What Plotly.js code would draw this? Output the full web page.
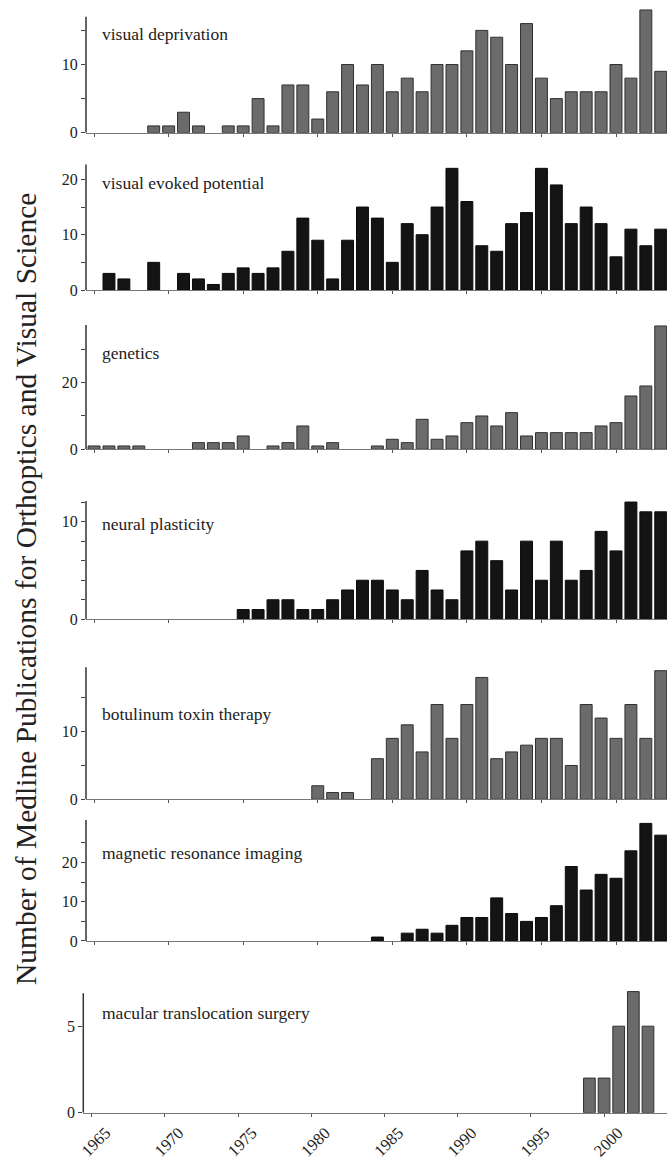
<!DOCTYPE html>
<html>
<head>
<meta charset="utf-8">
<script src="https://cdn.plot.ly/plotly-3.0.1.min.js"></script>
<style>
  html, body { margin: 0; padding: 0; background: #ffffff; }
  #chart { width: 667px; height: 1161px; }
</style>
</head>
<body>
<div id="chart"></div>
<script>
// ---------------- DATA ----------------
const years = [1965, 1966, 1967, 1968, 1969, 1970, 1971, 1972, 1973, 1974,
               1975, 1976, 1977, 1978, 1979, 1980, 1981, 1982, 1983, 1984,
               1985, 1986, 1987, 1988, 1989, 1990, 1991, 1992, 1993, 1994,
               1995, 1996, 1997, 1998, 1999, 2000, 2001, 2002, 2003];

const xTickYears  = [1965, 1970, 1975, 1980, 1985, 1990, 1995, 2000];
const xTickLabels = ["1965", "1970", "1975", "1980", "1985", "1990", "1995", "2000"];

const panelNames = ["visual deprivation", "visual evoked potential", "genetics",
                    "neural plasticity", "botulinum toxin therapy",
                    "magnetic resonance imaging", "macular translocation surgery"];

const visualDeprivation = [0, 0, 0, 0, 1, 1, 3, 1, 0, 1,
                           1, 5, 1, 7, 7, 2, 6, 10, 7, 10,
                           6, 8, 6, 10, 10, 12, 15, 14, 10, 16,
                           8, 5, 6, 6, 6, 10, 8, 18, 9];

const visualEvokedPotential = [0, 3, 2, 0, 5, 0, 3, 2, 1, 3,
                               4, 3, 4, 7, 13, 9, 2, 9, 15, 13,
                               5, 12, 10, 15, 22, 16, 8, 7, 12, 14,
                               22, 19, 12, 15, 12, 6, 11, 8, 11];

const genetics = [1, 1, 1, 1, 0, 0, 0, 2, 2, 2,
                  4, 0, 1, 2, 7, 1, 2, 0, 0, 1,
                  3, 2, 9, 3, 4, 8, 10, 7, 11, 4,
                  5, 5, 5, 5, 7, 8, 16, 19, 37];

const neuralPlasticity = [0, 0, 0, 0, 0, 0, 0, 0, 0, 0,
                          1, 1, 2, 2, 1, 1, 2, 3, 4, 4,
                          3, 2, 5, 3, 2, 7, 8, 6, 3, 8,
                          4, 8, 4, 5, 9, 7, 12, 11, 11];

const botulinumToxin = [0, 0, 0, 0, 0, 0, 0, 0, 0, 0,
                        0, 0, 0, 0, 0, 2, 1, 1, 0, 6,
                        9, 11, 7, 14, 9, 14, 18, 6, 7, 8,
                        9, 9, 5, 14, 12, 9, 14, 9, 19];

const mri = [0, 0, 0, 0, 0, 0, 0, 0, 0, 0,
             0, 0, 0, 0, 0, 0, 0, 0, 0, 1,
             0, 2, 3, 2, 4, 6, 6, 11, 7, 5,
             6, 9, 19, 13, 17, 16, 23, 30, 27];

const macularTranslocation = [0, 0, 0, 0, 0, 0, 0, 0, 0, 0,
                              0, 0, 0, 0, 0, 0, 0, 0, 0, 0,
                              0, 0, 0, 0, 0, 0, 0, 0, 0, 0,
                              0, 0, 0, 0, 2, 2, 5, 7, 5];

const yTickVals = [[0, 5, 10, 15], [0, 5, 10, 15, 20], [0, 10, 20, 30],
                   [0, 2, 4, 6, 8, 10, 12], [0, 5, 10, 15], [0, 5, 10, 15, 20, 25], [0, 5]];
const yTickText = [["0", "", "10", ""], ["0", "", "10", "", "20"], ["0", "", "20", ""],
                   ["0", "", "", "", "", "10", ""], ["0", "", "10", ""], ["0", "", "10", "", "20", ""], ["0", "5"]];

const seriesList = [visualDeprivation, visualEvokedPotential, genetics, neuralPlasticity,
                    botulinumToxin, mri, macularTranslocation];

// ---------------- STYLE / LAYOUT ----------------
const W = 667, H = 1161;
const SERIF = "Liberation Serif, Times New Roman, serif";
const GRAY = "#6b6b6b", GRAY_LINE = "#303030";
const BLACK = "#141414", BLACK_LINE = "#0a0a0a";

// pixel geometry of each panel: baseline (px), px per unit, range max, axis line top (value), label centre (px)
const geom = [
  { base: 132.7, ppu: 6.82, rmax: 19.0, atop: 17.0, ly: 34,  dark: false },
  { base: 290.0, ppu: 5.53, rmax: 23.0, atop: 22.7, ly: 183, dark: true  },
  { base: 449.3, ppu: 3.333, rmax: 38.0, atop: 37.3, ly: 353, dark: false },
  { base: 619.3, ppu: 9.77, rmax: 12.4, atop: 12.1, ly: 524, dark: true  },
  { base: 799.3, ppu: 6.77, rmax: 19.8, atop: 19.5, ly: 714, dark: false },
  { base: 941.0, ppu: 3.92, rmax: 31.2, atop: 30.9, ly: 853, dark: true  },
  { base: 1112.7, ppu: 17.3, rmax: 7.1, atop: 6.9, ly: 1013, dark: false }
];

const traces = [];
const layout = {
  width: W, height: H,
  margin: { l: 0, r: 0, t: 0, b: 0 },
  paper_bgcolor: "#ffffff", plot_bgcolor: "#ffffff",
  showlegend: false,
  bargap: 0.2,
  font: { family: SERIF, color: "#222222", size: 16 },
  shapes: [], annotations: []
};

seriesList.forEach((vals, i) => {
  const n = i + 1;
  const g = geom[i];
  const xa = "x" + (n === 1 ? "" : n), ya = "y" + (n === 1 ? "" : n);
  const xKey = "xaxis" + (n === 1 ? "" : n), yKey = "yaxis" + (n === 1 ? "" : n);
  const last = (n === 7);

  traces.push({
    type: "bar", x: years, y: vals.map(v => v === 0 ? null : v),
    xaxis: xa, yaxis: ya,
    marker: { color: g.dark ? BLACK : GRAY, line: { color: g.dark ? BLACK_LINE : GRAY_LINE, width: 1 } },
    hoverinfo: "x+y"
  });

  const topPx = g.base - g.rmax * g.ppu;
  layout[yKey] = {
    domain: [1 - g.base / H, 1 - topPx / H],
    range: [0, g.rmax], anchor: xa,
    showline: false, zeroline: false, showgrid: false,
    ticks: "outside", ticklen: 4, tickwidth: 1, tickcolor: "#444",
    tickvals: yTickVals[i], ticktext: yTickText[i],
    tickfont: { family: SERIF, size: 16, color: "#222" },
    fixedrange: true
  };
  layout[xKey] = {
    domain: last ? [83.3 / W, 1] : [86 / W, 1],
    range: last ? [1964.43, 2004.3] : [1964.46, 2003.42],
    anchor: ya,
    showline: true, linecolor: "#777", linewidth: 1,
    zeroline: false, showgrid: false,
    ticks: "outside", ticklen: 3, tickwidth: 1, tickcolor: "#555",
    tickvals: xTickYears, ticktext: xTickLabels,
    showticklabels: last,
    tickangle: -45,
    ticklabelshift: last ? 14 : 0,
    ticklabelstandoff: 0,
    tickfont: { family: SERIF, size: 16.5, color: "#222" },
    fixedrange: true
  };

  layout.shapes.push({
    type: "line", xref: xa + " domain", yref: ya,
    x0: 0, x1: 0, y0: 0, y1: g.atop,
    line: { color: "#333", width: 1.5 }
  });

  layout.annotations.push({
    text: panelNames[i], xref: "paper", yref: "paper",
    x: 100 / W, y: 1 - g.ly / H, xanchor: "left", yanchor: "middle",
    showarrow: false, font: { family: SERIF, size: 17.5, color: "#222" }
  });
});

layout.annotations.push({
  text: "Number of Medline Publications for Orthoptics and Visual Science",
  xref: "paper", yref: "paper", x: 26 / W, y: 1 - 589 / H,
  xanchor: "center", yanchor: "middle", textangle: -90,
  showarrow: false, font: { family: SERIF, size: 29.5, color: "#222" }
});

Plotly.newPlot("chart", traces, layout, { displayModeBar: false, staticPlot: true });
</script>
</body>
</html>
